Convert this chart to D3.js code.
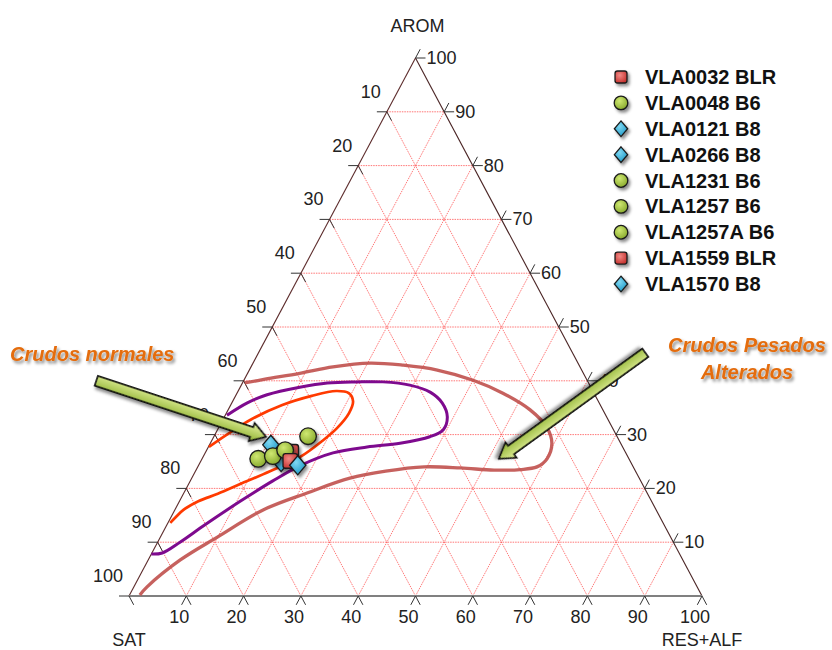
<!DOCTYPE html>
<html>
<head>
<meta charset="utf-8">
<script src="https://cdn.jsdelivr.net/npm/d3@7/dist/d3.min.js"></script>
<style>
  body { margin: 0; background: #fff; }
  svg { font-family: "Liberation Sans", Arial, sans-serif; }
</style>
</head>
<body>
<svg id="chart" width="832" height="650"></svg>
<script>
// Ternary values: [AROM, RES+ALF], SAT = 100 - AROM - RES
const ticks = [10, 20, 30, 40, 50, 60, 70, 80, 90, 100];

const samples = ['VLA0032 BLR', 'VLA0048 B6', 'VLA0121 B8', 'VLA0266 B8', 'VLA1231 B6',
                 'VLA1257 B6', 'VLA1257A B6', 'VLA1559 BLR', 'VLA1570 B8'];
const sampleType = ['BLR', 'B6', 'B8', 'B8', 'B6', 'B6', 'B6', 'BLR', 'B8'];
const sampleArom = [26.8, 29.7, 28.1, 24.9, 25.5, 26.0, 27.1, 25.1, 24.3];
const sampleRes = [14.9, 16.4, 10.7, 14.1, 9.8, 12.1, 13.7, 15.6, 17.3];

// envelope curves
const normalCurve = [[13.6, 0.4], [14.6, 0.8], [16.0, 1.5], [17.6, 3.3], [19.0, 6.0], [20.8, 9.0],
  [23.2, 13.0], [25.8, 16.9], [28.8, 19.3], [31.2, 20.7], [34.0, 21.4], [36.2, 21.0], [37.7, 19.5],
  [38.1, 17.1], [37.2, 13.3], [35.5, 9.0], [32.9, 5.0], [29.9, 2.0], [27.7, 0.1]];
const middleCurve = [[7.8, 0.0], [8.0, 1.8], [10.0, 3.9], [13.2, 6.6], [17.6, 10.6], [21.4, 14.4],
  [24.2, 17.7], [26.6, 22.3], [27.7, 27.7], [28.4, 33.1], [29.6, 37.7], [30.9, 39.4], [33.3, 38.9],
  [35.9, 36.7], [37.9, 33.6], [39.2, 29.4], [39.8, 24.4], [39.8, 19.9], [39.6, 14.8], [38.8, 10.4],
  [37.4, 5.4], [35.9, 2.7], [33.6, 0.3]];
const alteredCurve = [[0.2, 1.8], [1.7, 2.3], [6.7, 5.6], [11.0, 10.0], [16.0, 15.4],
  [19.2, 21.6], [21.9, 27.6], [23.2, 33.2], [24.0, 39.5], [23.8, 46.0], [23.4, 52.0],
  [23.5, 56.5], [24.0, 59.2], [25.5, 60.2], [28.4, 59.6], [31.4, 57.2], [34.6, 52.7], [37.7, 46.4],
  [40.1, 40.0], [42.0, 32.8], [42.9, 26.4], [43.3, 20.4], [42.6, 14.3], [41.4, 9.1], [40.3, 3.6],
  [39.6, 0.4]];

// annotation arrows [AROM, RES] tail -> tip
const arrowNormal = [[40.0, -25.7], [29.6, 9.1]];
const arrowAltered = [[45.2, 67.5], [25.5, 51.8]];

const svg = d3.select('#chart');
const xScale = d3.scaleLinear().domain([0, 100]).range([129, 702]);
const yScale = d3.scaleLinear().domain([0, 100]).range([596, 58]);
// project (arom, res) to pixels
const px = (a, r) => [xScale(r + a / 2), yScale(a)];

const defs = svg.append('defs');
const shadow = defs.append('filter').attr('id', 'shadow')
  .attr('x', '-50%').attr('y', '-50%').attr('width', '200%').attr('height', '200%');
shadow.append('feDropShadow').attr('dx', 2).attr('dy', 2.5).attr('stdDeviation', 1.6)
  .attr('flood-color', '#000').attr('flood-opacity', 0.45);

function radial(id, c1, c2) {
  const g = defs.append('radialGradient').attr('id', id).attr('cx', '40%').attr('cy', '35%').attr('r', '70%');
  g.append('stop').attr('offset', '0%').attr('stop-color', c1);
  g.append('stop').attr('offset', '100%').attr('stop-color', c2);
}
radial('gB6', '#cfe872', '#86a82a');
radial('gB8', '#7fd8f2', '#1a97c6');
radial('gBLR', '#f28a86', '#c4302c');
const arrowGrad = defs.append('linearGradient').attr('id', 'gArrow')
  .attr('x1', 0).attr('y1', 0).attr('x2', 0).attr('y2', 1);
arrowGrad.append('stop').attr('offset', '0%').attr('stop-color', '#e6f3a0');
arrowGrad.append('stop').attr('offset', '100%').attr('stop-color', '#8db030');

// grid
const grid = svg.append('g').attr('stroke', '#ff2a2a').attr('stroke-width', 0.8)
  .attr('stroke-dasharray', '1.5,1').attr('opacity', 0.8).attr('fill', 'none');
for (let v = 10; v < 100; v += 10) {
  // constant AROM
  let p1 = px(v, 0), p2 = px(v, 100 - v);
  grid.append('line').attr('x1', p1[0]).attr('y1', p1[1]).attr('x2', p2[0]).attr('y2', p2[1]);
  // constant RES
  p1 = px(0, v); p2 = px(100 - v, v);
  grid.append('line').attr('x1', p1[0]).attr('y1', p1[1]).attr('x2', p2[0]).attr('y2', p2[1]);
  // constant SAT
  p1 = px(0, 100 - v); p2 = px(100 - v, 0);
  grid.append('line').attr('x1', p1[0]).attr('y1', p1[1]).attr('x2', p2[0]).attr('y2', p2[1]);
}

// triangle edges
const pS = px(0, 0), pR = px(0, 100), pA = px(100, 0);
svg.append('line').attr('x1', pS[0]).attr('y1', pS[1]).attr('x2', pA[0]).attr('y2', pA[1])
  .attr('stroke', '#5c2b2b').attr('stroke-width', 1.1);
svg.append('line').attr('x1', pR[0]).attr('y1', pR[1]).attr('x2', pA[0]).attr('y2', pA[1])
  .attr('stroke', '#4a2424').attr('stroke-width', 1.1);
svg.append('line').attr('x1', pS[0]).attr('y1', pS[1]).attr('x2', pR[0]).attr('y2', pR[1])
  .attr('stroke', '#808080').attr('stroke-width', 2);

// tick marks: extend the grid lines out of the triangle
const tickG = svg.append('g').attr('stroke', '#333').attr('stroke-width', 1);
const unit = (a, b) => { const dx = b[0] - a[0], dy = b[1] - a[1], l = Math.hypot(dx, dy); return [dx / l, dy / l]; };
const dirLeftEdge = unit(pS, pA);   // up-right
const dirRightEdge = unit(pR, pA);  // up-left
const tl = 10;
function tick(p, d) {
  tickG.append('line').attr('x1', p[0]).attr('y1', p[1])
    .attr('x2', p[0] + d[0] * tl).attr('y2', p[1] + d[1] * tl);
}
ticks.forEach(v => {
  // left edge (SAT = v)
  let p = px(100 - v, 0);
  tick(p, [-1, 0]);
  tick(p, [-dirRightEdge[0], -dirRightEdge[1]]);
  svg.append('text').attr('x', p[0] - 6).attr('y', p[1] - 14).attr('text-anchor', 'end')
    .attr('font-size', 18).attr('fill', '#222').text(v);
  // right edge (AROM = v)
  p = px(v, 100 - v);
  tick(p, [1, 0]);
  tick(p, dirLeftEdge);
  svg.append('text').attr('x', p[0] + 11).attr('y', p[1] + 6).attr('text-anchor', 'start')
    .attr('font-size', 18).attr('fill', '#222').text(v);
  // bottom edge (RES = v)
  p = px(0, v);
  tick(p, [-dirLeftEdge[0], -dirLeftEdge[1]]);
  tick(p, [-dirRightEdge[0], -dirRightEdge[1]]);
  svg.append('text').attr('x', p[0] - 7).attr('y', p[1] + 27).attr('text-anchor', 'middle')
    .attr('font-size', 18).attr('fill', '#222').text(v);
});

// axis titles
svg.append('text').attr('x', pA[0] + 2).attr('y', 32).attr('text-anchor', 'middle')
  .attr('font-size', 18).attr('fill', '#222').text('AROM');
svg.append('text').attr('x', pS[0]).attr('y', 646).attr('text-anchor', 'middle')
  .attr('font-size', 18).attr('fill', '#222').text('SAT');
svg.append('text').attr('x', pR[0]).attr('y', 646).attr('text-anchor', 'middle')
  .attr('font-size', 18).attr('fill', '#222').text('RES+ALF');

// envelopes
const line = d3.line().curve(d3.curveCatmullRom.alpha(0.5))
  .x(d => px(d[0], d[1])[0]).y(d => px(d[0], d[1])[1]);
svg.append('path').attr('d', line(alteredCurve)).attr('fill', 'none')
  .attr('stroke', '#c0504d').attr('stroke-width', 3.3).attr('stroke-opacity', 0.9);
svg.append('path').attr('d', line(middleCurve)).attr('fill', 'none')
  .attr('stroke', '#7e0a8e').attr('stroke-width', 3);
svg.append('path').attr('d', line(normalCurve)).attr('fill', 'none')
  .attr('stroke', '#ff3a00').attr('stroke-width', 2.7);

// arrows
function drawArrow(spec) {
  const t = px(spec[0][0], spec[0][1]), h = px(spec[1][0], spec[1][1]);
  const len = Math.hypot(h[0] - t[0], h[1] - t[1]);
  const ang = Math.atan2(h[1] - t[1], h[0] - t[0]) * 180 / Math.PI;
  const sw = 5.2, hw = 9.5, hl = 15;
  const pts = [[0, -sw], [len - hl, -sw], [len - hl, -hw], [len, 0], [len - hl, hw], [len - hl, sw], [0, sw]];
  svg.append('polygon')
    .attr('points', pts.map(p => p.join(',')).join(' '))
    .attr('transform', `translate(${t[0]},${t[1]}) rotate(${ang})`)
    .attr('fill', 'url(#gArrow)').attr('stroke', '#111').attr('stroke-width', 1.7)
    .attr('stroke-linejoin', 'miter').attr('filter', 'url(#shadow)');
}
drawArrow(arrowNormal);
drawArrow(arrowAltered);

// markers
function marker(g, type, size) {
  if (type === 'B6') {
    g.append('circle').attr('r', size).attr('fill', 'url(#gB6)');
  } else if (type === 'B8') {
    const s = size * 1.15;
    g.append('path').attr('d', `M0,${-s}L${s * 0.85},0L0,${s}L${-s * 0.85},0Z`).attr('fill', 'url(#gB8)');
  } else {
    const s = size * 0.88;
    g.append('rect').attr('x', -s).attr('y', -s).attr('width', 2 * s).attr('height', 2 * s)
      .attr('rx', 2.5).attr('fill', 'url(#gBLR)');
  }
  g.selectAll('*').attr('stroke', '#1a1a1a').attr('stroke-width', 1.3);
}

const pts = svg.append('g');
samples.forEach((name, i) => {
  const p = px(sampleArom[i], sampleRes[i]);
  const g = pts.append('g').attr('transform', `translate(${p[0]},${p[1]})`).attr('filter', 'url(#shadow)');
  marker(g, sampleType[i], 8.3);
});

// legend
const legY = d3.scaleLinear().domain([0, samples.length - 1]).range([77, 284]);
samples.forEach((name, i) => {
  const g = svg.append('g').attr('transform', `translate(621,${legY(i)})`);
  const m = g.append('g').attr('filter', 'url(#shadow)');
  marker(m, sampleType[i], 6.8);
  g.append('text').attr('x', 24).attr('y', 7).attr('font-size', 20).attr('font-weight', 'bold')
    .attr('fill', '#111').text(name);
});

// annotations
const note = svg.append('g').attr('font-size', 20).attr('font-weight', 'bold').attr('font-style', 'italic')
  .attr('fill', '#e46c0a').attr('filter', 'url(#shadow)');
note.append('text').attr('x', 10).attr('y', 361).text('Crudos normales');
note.append('text').attr('x', 747).attr('y', 352).attr('text-anchor', 'middle').text('Crudos Pesados');
note.append('text').attr('x', 747).attr('y', 379).attr('text-anchor', 'middle').text('Alterados');
</script>
</body>
</html>
